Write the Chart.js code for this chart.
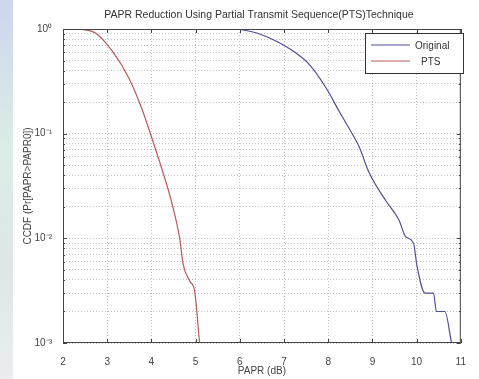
<!DOCTYPE html>
<html lang="en">
  <head>
    <meta charset="UTF-8" />
    <title>PAPR Reduction Using PTS</title>
    <style>
      html, body { margin: 0; padding: 0; background: #ffffff; }
      #wrap { width: 479px; height: 379px; position: relative; }
    </style>
    <script src="https://cdn.jsdelivr.net/npm/chart.js"></script>
  </head>
  <body>
    <div id="wrap"><canvas id="papr" width="479" height="379"></canvas></div>
    <script>
      // CCDF curves (x = PAPR in dB, y = probability)
      const originalX = [5.95, 6.4, 6.84, 7.22, 7.59, 7.96, 8.26, 8.56, 8.7, 8.93, 9.3, 9.6, 9.75, 9.93, 10.01, 10.19, 10.38, 10.45, 10.64, 10.79];
      const originalY = [1.0, 0.91, 0.76, 0.61, 0.45, 0.27, 0.16, 0.097, 0.075, 0.042, 0.023, 0.015, 0.0104, 0.009, 0.0054, 0.003, 0.003, 0.002, 0.002, 0.001];
      const ptsX = [2.37, 2.74, 3.12, 3.49, 3.79, 4.01, 4.23, 4.46, 4.64, 4.72, 4.87, 4.98, 5.09];
      const ptsY = [1.0, 0.91, 0.61, 0.34, 0.17, 0.091, 0.047, 0.022, 0.01, 0.0056, 0.0039, 0.0031, 0.001];
      const xTicks = [2, 3, 4, 5, 6, 7, 8, 9, 10, 11];
      const yDecades = [0.001, 0.01, 0.1, 1];
      const yLabels = ["10\u207B\u00B3", "10\u207B\u00B2", "10\u207B\u00B9", "10\u2070"];

      const toPoints = (xs, ys) => xs.map((x, i) => ({ x: x, y: ys[i] }));

      // every 1..9 x 10^k tick for the log grid
      const logTicks = [];
      for (let d = 0; d < yDecades.length - 1; d++) {
        for (let m = 1; m <= 9; m++) logTicks.push(+(yDecades[d] * m).toPrecision(3));
      }
      logTicks.push(1);

      const FONT = "'Liberation Sans', Arial, sans-serif";

      // page backdrop, title, box, inner ticks and legend like the MATLAB figure
      const figurePlugin = {
        id: "figure",
        beforeDraw(chart) {
          const ctx = chart.ctx;
          ctx.save();
          const g = ctx.createLinearGradient(0, 0, 0, 379);
          g.addColorStop(0, "#cdd6ee");
          g.addColorStop(0.4, "#dbeee6");
          g.addColorStop(0.7, "#dfe6ea");
          g.addColorStop(1, "#e8eef2");
          ctx.fillStyle = g;
          ctx.fillRect(0, 0, 13, 379);
          ctx.restore();
        },
        afterDraw(chart) {
          const ctx = chart.ctx;
          const a = chart.chartArea;
          const xs = chart.scales.x, ys = chart.scales.y;
          ctx.save();
          // title
          ctx.fillStyle = "#333";
          ctx.font = "10.5px " + FONT;
          ctx.textAlign = "center";
          ctx.textBaseline = "middle";
          ctx.fillText("PAPR Reduction Using Partial Transmit Sequence(PTS)Technique", (a.left + a.right) / 2 - 3, 15);
          // box
          ctx.strokeStyle = "#444";
          ctx.lineWidth = 1;
          ctx.strokeRect(a.left + 0.5, a.top + 0.5, a.right - a.left - 1, a.bottom - a.top - 1);
          // inner ticks
          ctx.beginPath();
          xTicks.forEach(v => {
            const px = Math.round(xs.getPixelForValue(v)) + 0.5;
            ctx.moveTo(px, a.bottom); ctx.lineTo(px, a.bottom - 4);
            ctx.moveTo(px, a.top); ctx.lineTo(px, a.top + 4);
          });
          logTicks.forEach(v => {
            const py = Math.round(ys.getPixelForValue(v)) + 0.5;
            const len = yDecades.includes(v) ? 4 : 2;
            ctx.moveTo(a.left, py); ctx.lineTo(a.left + len, py);
            ctx.moveTo(a.right, py); ctx.lineTo(a.right - len, py);
          });
          ctx.stroke();
          // legend
          const lx = 365, ly = 33, lw = 98, lh = 40;
          ctx.fillStyle = "#fff";
          ctx.fillRect(lx, ly, lw, lh);
          ctx.strokeStyle = "#333";
          ctx.strokeRect(lx + 0.5, ly + 0.5, lw, lh);
          ctx.font = "10px " + FONT;
          ctx.textAlign = "left";
          chart.data.datasets.forEach((ds, i) => {
            const yy = ly + 12 + i * 16;
            ctx.strokeStyle = ds.borderColor;
            ctx.lineWidth = 1.2;
            ctx.beginPath();
            ctx.moveTo(lx + 6, yy); ctx.lineTo(lx + 45, yy);
            ctx.stroke();
            ctx.fillStyle = "#333";
            ctx.fillText(ds.label, lx + (i === 0 ? 50 : 56), yy + 1);
          });
          ctx.restore();
        }
      };

      new Chart(document.getElementById("papr"), {
        type: "line",
        data: {
          datasets: [
            {
              label: "Original",
              data: toPoints(originalX, originalY),
              borderColor: "#4f4f95",
              borderWidth: 1.2,
              pointRadius: 0,
              cubicInterpolationMode: "monotone",
              fill: false
            },
            {
              label: "PTS",
              data: toPoints(ptsX, ptsY),
              borderColor: "#b85a5a",
              borderWidth: 1.2,
              pointRadius: 0,
              cubicInterpolationMode: "monotone",
              fill: false
            }
          ]
        },
        options: {
          responsive: false,
          animation: false,
          events: [],
          layout: { padding: { top: 29, right: 13, left: 0, bottom: 0 } },
          plugins: {
            legend: { display: false },
            title: { display: false },
            tooltip: { enabled: false }
          },
          scales: {
            x: {
              type: "linear",
              min: 2,
              max: 11,
              afterBuildTicks: s => { s.ticks = xTicks.map(v => ({ value: v })); },
              afterFit: s => { s.height = 36; },
              grid: { color: "#c4c4c4", lineWidth: 1, drawTicks: false },
              border: { display: false, dash: [1, 2] },
              ticks: { color: "#444", font: { family: FONT, size: 10 }, padding: 13, maxRotation: 0 },
              title: {
                display: true,
                text: "PAPR (dB)",
                color: "#444",
                font: { family: FONT, size: 10 },
                padding: { top: 0, bottom: 2 }
              }
            },
            y: {
              type: "logarithmic",
              min: 0.001,
              max: 1,
              afterBuildTicks: s => { s.ticks = logTicks.map(v => ({ value: v })); },
              afterFit: s => { s.width = 63; },
              grid: { color: "#c4c4c4", lineWidth: 1, drawTicks: false },
              border: { display: false, dash: [1, 2] },
              ticks: {
                autoSkip: false,
                color: "#444",
                font: { family: FONT, size: 10 },
                padding: 11,
                callback: v => {
                  const i = yDecades.findIndex(d => Math.abs(d - v) < d * 1e-6);
                  return i >= 0 ? yLabels[i] : "";
                }
              },
              title: {
                display: true,
                text: "CCDF (Pr[PAPR>PAPR0])",
                color: "#444",
                font: { family: FONT, size: 10 },
                padding: { top: 22, bottom: 0 }
              }
            }
          }
        },
        plugins: [figurePlugin]
      });
    </script>
  </body>
</html>
